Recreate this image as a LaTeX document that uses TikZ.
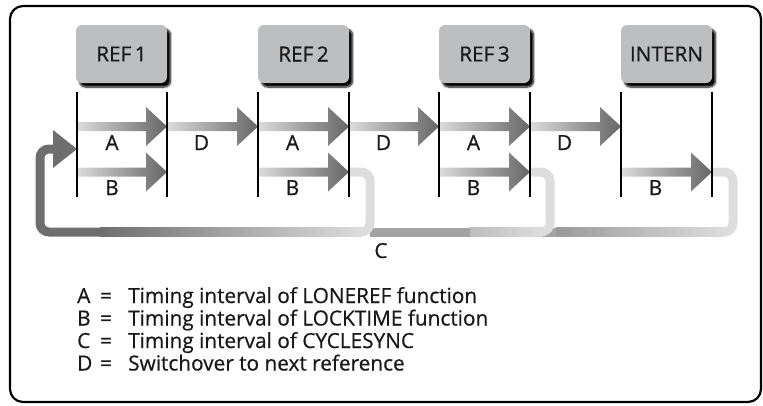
\documentclass[tikz,border=0pt]{standalone}
\usepackage{fontspec}
\setmainfont{Open Sans}[BoldFont=Open Sans, BoldFeatures={FakeBold=0.6}]
\usetikzlibrary{shadows.blur}
\definecolor{boxgray}{HTML}{BDBEC0}
\definecolor{pipelight}{HTML}{DDDDDD}
\definecolor{pipemid}{HTML}{9A9A9A}
\definecolor{pipemidB}{HTML}{A3A3A3}
\definecolor{pipemidC}{HTML}{BDBDBD}
\definecolor{pipedark}{HTML}{6E6E6E}
\definecolor{arrowlight}{HTML}{DCDCDC}
\definecolor{arrowdark}{HTML}{666666}
\newcommand\tmarrow[3]{%
  \shade[left color=arrowlight, right color=arrowdark]
    (#1,#3-4.5) -- (#2-21,#3-4.5) -- (#2-21,#3-19.5) -- (#2,#3) --
    (#2-21,#3+19.5) -- (#2-21,#3+4.5) -- (#1,#3+4.5) -- cycle;}
\tikzset{
  txt/.style={font=\fontsize{20.8}{24}\selectfont\bfseries, inner sep=0pt, text=black!90},
  refbox/.style={txt, fill=boxgray, rounded corners=6pt, minimum width=91pt,
    minimum height=58pt,
    blur shadow={shadow xshift=3.5pt, shadow yshift=-4pt, shadow opacity=100,
      shadow blur radius=1.8pt, shadow blur steps=8}},
  vline/.style={line width=1.8pt, black},
  pipe/.style={line width=9pt, rounded corners=9pt, pipelight},
  frame/.style={line width=2.2pt, rounded corners=13pt},
}
\begin{document}
\begin{tikzpicture}[x=1pt, y=-1pt]
\useasboundingbox (0,0) rectangle (763,405);
\draw[frame] (10,6) rectangle (761,402);

% reference boxes
\node[refbox] (r1) at (121.5,54) {REF\,1};
\node[refbox] (r2) at (303.5,54) {REF\,2};
\node[refbox] (r3) at (484.5,54) {REF\,3};
\node[refbox] (r4) at (666.5,54) {INTERN};

% return pipes (C)
\draw[pipe] (712,172) -- (733,172) -- (733,232) -- (700,232);
\fill[pipemidB] (370,227.5) rectangle (557,236.5);
\shade[left color=pipemid, right color=pipelight] (556,227.5) rectangle (725,236.5);
\draw[pipe] (530,172) -- (550,172) -- (550,232) -- (520,232);
\shade[left color=pipemidC, right color=pipelight] (470,227.5) rectangle (542,236.5);
\draw[pipe] (349,172) -- (370,172) -- (370,232) -- (340,232);
\shade[left color=pipedark, right color=pipelight] (100,227.5) rectangle (362,236.5);
\draw[pipe, pipedark] (56,149) -- (40,149) -- (40,232) -- (101,232);
\coordinate (ctip) at (77,149);
\fill[pipedark] (53,130) -- (ctip) -- (53,168) -- cycle;

% A and D arrows
\tmarrow{77}{167}{126.5}
\tmarrow{167}{258}{126.5}
\tmarrow{258}{349}{126.5}
\tmarrow{349}{439}{126.5}
\tmarrow{439}{530}{126.5}
\tmarrow{530}{621}{126.5}
% B arrows
\tmarrow{77}{167}{172}
\tmarrow{258}{349}{172}
\tmarrow{439}{530}{172}
\tmarrow{621}{712}{172}

% vertical lines
\foreach \x/\n in {77/a,167/b,258/c,349/d,439/e,530/f,621/g,712/h}{
  \coordinate (t\n) at (\x,92);
  \coordinate (b\n) at (\x,197);
  \draw[vline] (t\n) -- (b\n);
}

% interval labels
\node[txt, anchor=base] (la1) at (112,150) {A};
\node[txt, anchor=base] (la2) at (292.5,150) {A};
\node[txt, anchor=base] (la3) at (473.5,150) {A};
\node[txt, anchor=base] (ld1) at (201.5,150) {D};
\node[txt, anchor=base] (ld2) at (383.5,150) {D};
\node[txt, anchor=base] (ld3) at (564.5,150) {D};
\node[txt, anchor=base] (lb1) at (112,195) {B};
\node[txt, anchor=base] (lb2) at (292.5,195) {B};
\node[txt, anchor=base] (lb3) at (473.5,195) {B};
\node[txt, anchor=base] (lb4) at (655.5,195) {B};
\node[txt, anchor=base] (lc) at (381,258) {C};

% legend
\foreach \k/\y/\t in {A/303/Timing interval of LONEREF function,
                      B/325.5/Timing interval of LOCKTIME function,
                      C/348/Timing interval of CYCLESYNC,
                      D/370.5/Switchover to next reference}{
  \node[txt, anchor=base west] (k\k) at (77,\y) {\k};
  \node[txt, anchor=base] (e\k) at (106,\y) {=};
  \node[txt, anchor=base west] (d\k) at (128,\y) {\t};
}
\end{tikzpicture}
\end{document}
